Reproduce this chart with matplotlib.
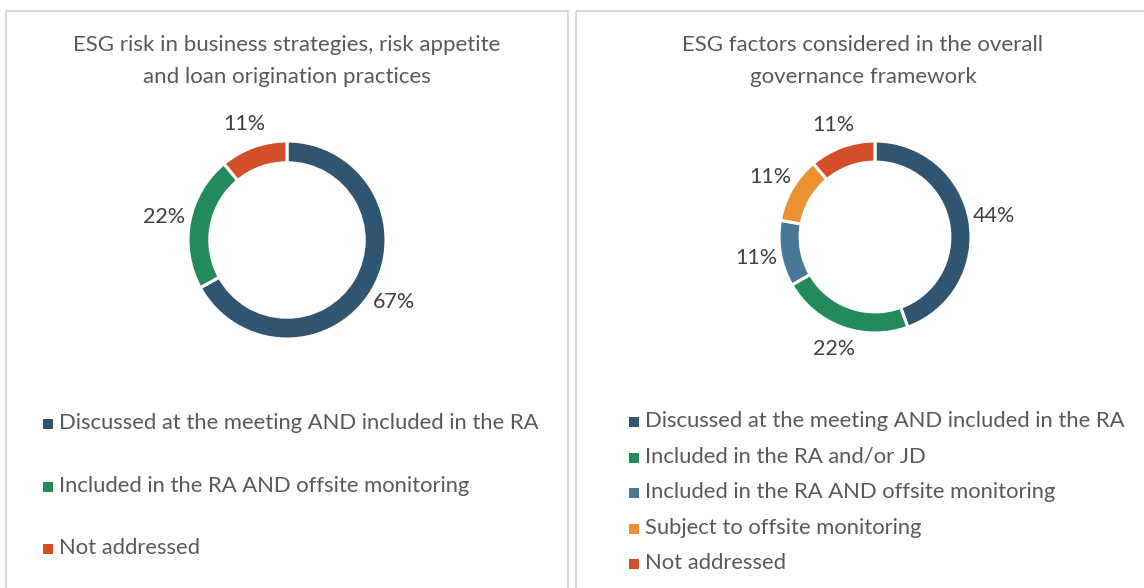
import math
import matplotlib
matplotlib.use("Agg")
import matplotlib.pyplot as plt
from matplotlib.patches import Rectangle

plt.rcParams['font.family'] = ['Lato', 'DejaVu Sans']

# ---- data ----
left_title = "ESG risk in business strategies, risk appetite\nand loan origination practices"
left_categories = ["Discussed at the meeting AND included in the RA",
                   "Included in the RA AND offsite monitoring",
                   "Not addressed"]
left_values = [67, 22, 11]
left_colors = ["#2F5573", "#238B5B", "#D44E2A"]

right_title = "ESG factors considered in the overall\ngovernance framework"
right_categories = ["Discussed at the meeting AND included in the RA",
                    "Included in the RA and/or JD",
                    "Included in the RA AND offsite monitoring",
                    "Subject to offsite monitoring",
                    "Not addressed"]
right_values = [44, 22, 11, 11, 11]
right_colors = ["#2F5573", "#238B5B", "#487896", "#EB9132", "#D44E2A"]

W, H = 1144, 588
fig = plt.figure(figsize=(W / 100, H / 100), dpi=100)
fig.patch.set_facecolor("white")

# overlay axes in pixel coordinates
ov = fig.add_axes([0, 0, 1, 1])
ov.set_xlim(0, W)
ov.set_ylim(H, 0)
ov.axis("off")

border = "#D9D9D9"
ov.add_patch(Rectangle((5.5, 10.5), 562, 600, fill=False, ec=border, lw=1.5))
ov.add_patch(Rectangle((575.5, 10.5), 600, 600, fill=False, ec=border, lw=1.5))

text_col = "#595959"
pct_col = "#404040"


def donut(cx, cy, R, values, colors, L=1.6):
    size = 2 * L * R
    ax = fig.add_axes([(cx - size / 2) / W, (H - cy - size / 2) / H, size / W, size / H])
    ax.set_facecolor("none")
    wedges, _ = ax.pie(values, colors=colors, startangle=90, counterclock=False,
                       radius=1, wedgeprops=dict(width=0.22, edgecolor="white", linewidth=2.2))
    total = sum(values)
    for w, v in zip(wedges, values):
        ang = math.radians((w.theta1 + w.theta2) / 2)
        ax.text(1.26 * math.cos(ang), 1.24 * math.sin(ang), f"{round(100 * v / total)}%",
                ha="center", va="center", fontsize=15.5, color=pct_col)
    ax.set_xlim(-L, L)
    ax.set_ylim(-L, L)
    ax.set_aspect("equal")
    ax.axis("off")


donut(287, 240, 99, left_values, left_colors)
donut(875, 237, 96, right_values, right_colors)

# titles
ov.text(287, 61, left_title, ha="center", va="center", fontsize=16, color=text_col,
        linespacing=1.7)
ov.text(863, 61, right_title, ha="center", va="center", fontsize=16, color=text_col,
        linespacing=1.7)


def legend(x, y0, dy, cats, colors):
    for i, (c, col) in enumerate(zip(cats, colors)):
        y = y0 + i * dy
        ov.scatter([x], [y + 1], marker="s", s=50, color=col, linewidths=0)
        ov.text(x + 11, y, c, ha="left", va="center", fontsize=15.8, color=text_col)


legend(48, 423, 62.5, left_categories, left_colors)
legend(634, 421, 35.5, right_categories, right_colors)

fig.savefig("out.png", dpi=100, facecolor="white")
